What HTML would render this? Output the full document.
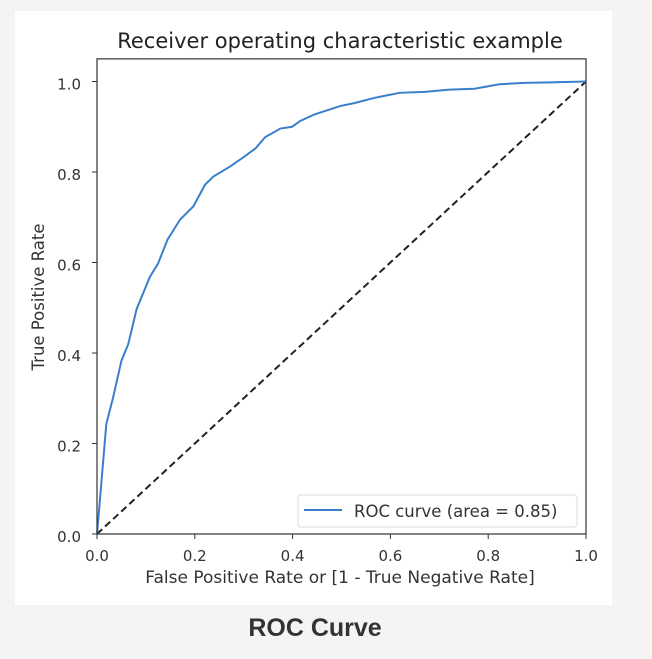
<!DOCTYPE html>
<html><head><meta charset="utf-8"><style>
body{margin:0;background:#f4f4f4;width:652px;height:659px;overflow:hidden;font-family:"DejaVu Sans","Liberation Sans",sans-serif}
#panel{position:absolute;left:15px;top:11px;width:597px;height:594px;background:#fff}
#cap{position:absolute;left:0;width:630px;top:614px;text-align:center;font:bold 25px "Liberation Sans",sans-serif;color:#333}
svg{position:absolute;left:0;top:0}
</style></head><body>
<div id="panel"></div>
<svg id="chart" width="652" height="659"></svg>
<div id="cap">ROC Curve</div>
<script>
const fpr=[0,0.007,0.019,0.033,0.05,0.064,0.081,0.108,0.125,0.144,0.17,0.197,0.221,0.238,0.272,0.3,0.324,0.344,0.375,0.399,0.416,0.444,0.498,0.525,0.568,0.619,0.67,0.721,0.772,0.823,0.874,0.926,1];
const tpr=[0,0.088,0.243,0.302,0.383,0.42,0.497,0.568,0.598,0.65,0.695,0.724,0.772,0.79,0.812,0.833,0.852,0.877,0.896,0.9,0.913,0.927,0.946,0.952,0.964,0.975,0.977,0.982,0.984,0.994,0.997,0.998,1];
const ticks=[0,0.2,0.4,0.6,0.8,1.0];
const tickLabels=["0.0","0.2","0.4","0.6","0.8","1.0"];
const X0=97,X1=586,Y0=534,Y1=81.5;
const sx=v=>X0+(X1-X0)*v, sy=v=>Y0-(Y0-Y1)*v;
const svg=document.getElementById('chart');const NS='http://www.w3.org/2000/svg';
function mk(t,a,p){const e=document.createElementNS(NS,t);for(const k in a)e.setAttribute(k,a[k]);(p||svg).appendChild(e);return e;}
const topY=sy(1.05);
let e=mk('text',{x:340,y:48,'text-anchor':'middle','font-size':21,fill:'#222'});e.textContent='Receiver operating characteristic example';


ticks.forEach((t,i)=>{
 let l=mk('line',{x1:sx(t),x2:sx(t),y1:Y0,y2:Y0+5,stroke:'#333'});
 
 
 let tx=mk('text',{x:sx(t),y:Y0+27,'text-anchor':'middle','font-size':15,fill:'#333'});tx.textContent=tickLabels[i];
 
 
 let l2=mk('line',{x1:X0-5,x2:X0,y1:sy(t),y2:sy(t),stroke:'#333'});
 
 
 let ty=mk('text',{x:X0-16,y:sy(t)+8,'text-anchor':'end','font-size':15,fill:'#333'});ty.textContent=tickLabels[i];
 
 
});
e=mk('line',{x1:sx(0),y1:sy(0),x2:sx(1),y2:sy(1),stroke:'#222','stroke-width':2,'stroke-dasharray':'7,4'});


e=mk('polyline',{points:fpr.map((v,i)=>sx(v)+','+sy(tpr[i])).join(' '),fill:'none',stroke:'#3a7fcb','stroke-width':2});


e=mk('rect',{x:X0,y:topY,width:X1-X0,height:Y0-topY,fill:'none',stroke:'#333','stroke-width':1.2});


e=mk('text',{x:340,y:583,'text-anchor':'middle','font-size':17,fill:'#333'});e.textContent='False Positive Rate or [1 - True Negative Rate]';


e=mk('text',{x:0,y:0,'text-anchor':'middle','font-size':16.5,fill:'#333',transform:'translate(44,297) rotate(-90)'});e.textContent='True Positive Rate';


const g=mk('g',{});


mk('rect',{x:298,y:495,width:279,height:32,rx:3,fill:'#fff',stroke:'#ddd'},g);
mk('line',{x1:304,x2:342,y1:510,y2:510,stroke:'#3a7fcb','stroke-width':2},g);
e=mk('text',{x:354,y:517,'font-size':16.5,fill:'#333'},g);e.textContent='ROC curve (area = 0.85)';


</script>
</body></html>
